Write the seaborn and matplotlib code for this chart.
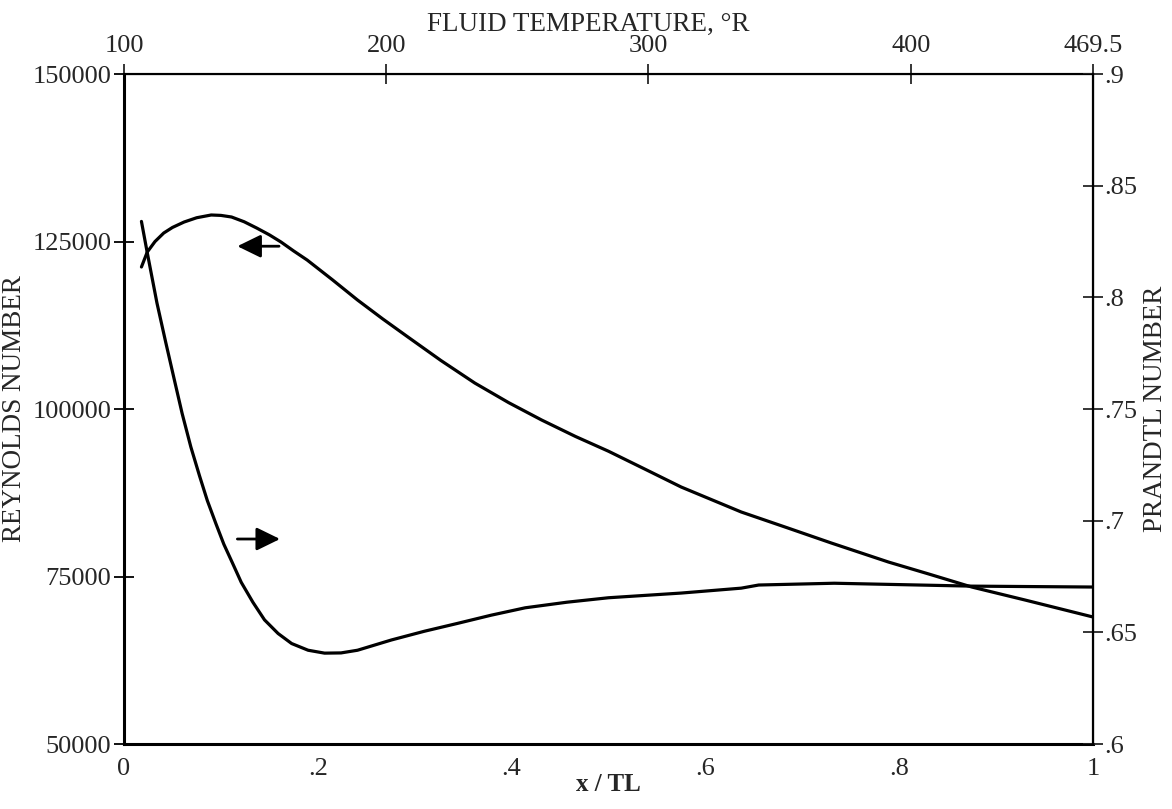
import matplotlib
matplotlib.use("Agg")
import matplotlib.pyplot as plt
import seaborn as sns
import pandas as pd

# ---- data ----
x_re = [0.018, 0.024, 0.032, 0.041, 0.050, 0.062, 0.075, 0.090, 0.100, 0.111, 0.124,
        0.137, 0.150, 0.162, 0.175, 0.189, 0.215, 0.241, 0.267, 0.293, 0.327, 0.362,
        0.397, 0.431, 0.466, 0.500, 0.538, 0.575, 0.637, 0.684, 0.730, 0.789, 0.830,
        0.875, 0.930, 1.000]
reynolds = [121200, 123430, 125000, 126270, 127100, 127910, 128550, 128960, 128900, 128660, 127950,
            127010, 126000, 124930, 123600, 122240, 119300, 116270, 113450, 110750, 107250, 103880,
            100950, 98360, 95900, 93700, 91000, 88360, 84630, 82300, 80000, 77160, 75400,
            73430, 71490, 68960]

x_pr = [0.018, 0.024, 0.034, 0.043, 0.052, 0.060, 0.069, 0.078, 0.086, 0.095, 0.103,
        0.112, 0.121, 0.133, 0.145, 0.159, 0.173, 0.190, 0.207, 0.224, 0.241, 0.276,
        0.310, 0.344, 0.379, 0.414, 0.457, 0.500, 0.575, 0.637, 0.655, 0.733, 0.875, 1.000]
prandtl = [0.834, 0.820, 0.7975, 0.780, 0.763, 0.748, 0.733, 0.720, 0.709, 0.6985, 0.6895,
           0.681, 0.6724, 0.6635, 0.6556, 0.6495, 0.645, 0.6420, 0.6407, 0.6408, 0.642, 0.6466,
           0.6505, 0.654, 0.6577, 0.661, 0.6635, 0.6655, 0.6676, 0.6698, 0.6712, 0.672, 0.6707, 0.6703]

x_ticks = [0, 0.2, 0.4, 0.6, 0.8, 1.0]
x_ticklabels = ["0", ".2", ".4", ".6", ".8", "1"]
re_ticks = [50000, 75000, 100000, 125000, 150000]
re_ticklabels = ["50000", "75000", "100000", "125000", "150000"]
pr_ticks = [0.6, 0.65, 0.7, 0.75, 0.8, 0.85, 0.9]
pr_ticklabels = [".6", ".65", ".7", ".75", ".8", ".85", ".9"]
temp_ticks = [100, 200, 300, 400, 469.5]
temp_ticklabels = ["100", "200", "300", "400", "469.5"]
temp_min, temp_max = 100, 469.5

# arrow annotations (x/TL, Reynolds-axis value)
arrow_left = dict(head=(0.117, 124300), tail=(0.160, 124300))
arrow_right = dict(tail=(0.117, 80600), head=(0.161, 80600))

df_re = pd.DataFrame({"x": x_re, "Re": reynolds})
df_pr = pd.DataFrame({"x": x_pr, "Pr": prandtl})

sns.set_style("white")
plt.rcParams["font.family"] = ["Liberation Serif", "DejaVu Serif"]
plt.rcParams["lines.solid_joinstyle"] = "round"

fig = plt.figure(figsize=(11.72, 8.09), dpi=100)
ax = fig.add_axes([0.1058, 0.0803, 0.9326 - 0.1058, 0.9085 - 0.0803])

sns.lineplot(data=df_re, x="x", y="Re", ax=ax, color="black", lw=2.3, sort=False)
ax.set_xlim(0, 1)
ax.set_ylim(50000, 150000)
ax.set_xticks(x_ticks)
ax.set_xticklabels(x_ticklabels)
ax.set_yticks(re_ticks)
ax.set_yticklabels(re_ticklabels)
ax.set_xlabel("x / TL", fontsize=18, fontweight="bold", labelpad=-5)
ax.set_ylabel("REYNOLDS NUMBER", fontsize=19.5, labelpad=4)
ax.tick_params(axis="both", which="major", direction="inout", length=14, width=1.3,
               labelsize=19, color="black")
ax.tick_params(axis="y", pad=2)
ax.tick_params(axis="x", pad=3)

ax2 = ax.twinx()
sns.lineplot(data=df_pr, x="x", y="Pr", ax=ax2, color="black", lw=2.3, sort=False)
ax2.set_ylim(0.6, 0.9)
ax2.set_yticks(pr_ticks)
ax2.set_yticklabels(pr_ticklabels)
ax2.set_ylabel("PRANDTL NUMBER", fontsize=19.5, labelpad=4)
ax2.tick_params(axis="y", direction="inout", length=14, width=1.3, labelsize=19, pad=1)

secax = ax.secondary_xaxis(
    "top",
    functions=(lambda x: temp_min + x * (temp_max - temp_min),
               lambda t: (t - temp_min) / (temp_max - temp_min)))
secax.set_xticks(temp_ticks)
secax.set_xticklabels(temp_ticklabels)
secax.set_xlabel("FLUID TEMPERATURE, \u00b0R", fontsize=19.5, labelpad=3)
secax.xaxis.label.set_x(0.479)
secax.tick_params(direction="inout", length=14, width=1.3, labelsize=19, pad=5)

for a in (ax, ax2):
    for s in a.spines.values():
        s.set_color("black")
ax.spines["left"].set_linewidth(2.2)
ax.spines["bottom"].set_linewidth(2.2)
ax.spines["top"].set_linewidth(1.5)
ax2.spines["right"].set_linewidth(1.6)
secax.spines["top"].set_linewidth(1.5)

arrowprops = dict(arrowstyle="-|>,head_length=0.45,head_width=0.22", mutation_scale=32,
                  lw=2, color="black", shrinkA=0, shrinkB=0)
ax.annotate("", xy=arrow_left["head"], xytext=arrow_left["tail"], arrowprops=arrowprops)
ax.annotate("", xy=arrow_right["head"], xytext=arrow_right["tail"], arrowprops=arrowprops)

fig.savefig("out.png", dpi=100)
